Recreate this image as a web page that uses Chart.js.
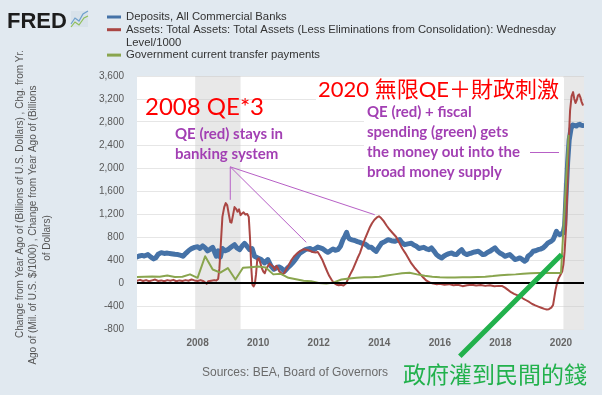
<!DOCTYPE html>
<html>
<head>
<meta charset="utf-8">
<script src="https://cdn.jsdelivr.net/npm/chart.js@4.4.1/dist/chart.umd.min.js"></script>
<style>
    html, body { margin: 0; padding: 0; background: #e1e9f0; }
    #wrap { position: relative; width: 602px; height: 395px; }
</style>
</head>
<body>
<div id="wrap"><canvas id="fredChart" width="602" height="395"></canvas></div>
<script>
// Deposits, All Commercial Banks (change from year ago, bn $) - weekly
const depYears = [2006.00, 2006.08, 2006.16, 2006.24, 2006.36, 2006.46, 2006.55, 2006.62, 2006.70, 2006.80, 2006.90,
    2007.00, 2007.13, 2007.25, 2007.35, 2007.45, 2007.52, 2007.62, 2007.72, 2007.80, 2007.90,
    2008.00, 2008.08, 2008.17, 2008.25, 2008.33, 2008.42, 2008.50, 2008.56, 2008.62, 2008.68, 2008.75, 2008.82, 2008.90,
    2009.00, 2009.10, 2009.22, 2009.30, 2009.39, 2009.48, 2009.55, 2009.63, 2009.72, 2009.80, 2009.88, 2009.99,
    2010.10, 2010.21, 2010.32, 2010.43, 2010.52, 2010.60, 2010.68, 2010.76, 2010.87, 2010.97,
    2011.05, 2011.14, 2011.22, 2011.30, 2011.38, 2011.47, 2011.56, 2011.64, 2011.72, 2011.80, 2011.90, 2011.97,
    2012.05, 2012.14, 2012.22, 2012.30, 2012.38, 2012.47, 2012.55, 2012.63, 2012.72, 2012.80, 2012.87, 2012.92, 2012.97,
    2013.02, 2013.10, 2013.19, 2013.28, 2013.36, 2013.44, 2013.52, 2013.60, 2013.66, 2013.74, 2013.82, 2013.90, 2013.98,
    2014.07, 2014.18, 2014.29, 2014.40, 2014.51, 2014.59, 2014.67, 2014.75, 2014.84, 2014.94,
    2015.06, 2015.14, 2015.23, 2015.31, 2015.39, 2015.47, 2015.56, 2015.64, 2015.72, 2015.80, 2015.89, 2015.97,
    2016.06, 2016.14, 2016.22, 2016.30, 2016.39, 2016.47, 2016.55, 2016.63, 2016.72, 2016.80, 2016.89, 2016.97,
    2017.05, 2017.15, 2017.27, 2017.35, 2017.42, 2017.49, 2017.57, 2017.65, 2017.73, 2017.82, 2017.90, 2017.98,
    2018.06, 2018.15, 2018.23, 2018.31, 2018.40, 2018.48, 2018.56, 2018.64, 2018.72, 2018.80, 2018.86, 2018.91,
    2019.00, 2019.08, 2019.16, 2019.24, 2019.32, 2019.41, 2019.49, 2019.57, 2019.66, 2019.74, 2019.80, 2019.85, 2019.90, 2019.96,
    2020.02, 2020.07, 2020.12, 2020.16, 2020.22, 2020.27, 2020.33, 2020.38, 2020.44, 2020.51, 2020.56, 2020.62, 2020.66, 2020.71];
const depValues = [455, 470, 480, 470, 494, 450, 420, 440, 500, 528, 515,
    520, 510, 500, 494, 480, 465, 520, 570, 598, 620,
    632, 600, 645, 610, 560, 590, 620, 540, 465, 560, 450, 600, 560,
    580, 620, 667, 610, 580, 650, 690, 640, 580, 600, 465, 436,
    407, 350, 407, 291, 240, 262, 280, 262, 205, 262,
    300, 350, 400, 464, 520, 551, 580, 592, 600, 568, 600, 626,
    610, 592, 560, 534, 560, 592, 570, 580, 640, 754, 820, 880, 800,
    765, 750, 740, 720, 707, 690, 680, 650, 620, 620, 580, 551, 620,
    690, 720, 754, 735, 725, 740, 754, 700, 667, 680,
    690, 660, 638, 600, 610, 620, 592, 580, 610, 560, 494, 460,
    436, 470, 494, 510, 522, 500, 494, 540, 580, 520, 494, 510,
    522, 540, 551, 520, 494, 500, 530, 551, 580, 610, 560, 522,
    500, 464, 480, 494, 450, 407, 420, 436, 410, 378, 400, 464,
    500, 551, 560, 580, 590, 610, 650, 697, 720, 754, 830, 898, 860, 840,
    860, 870, 1000, 1447, 2100, 2487, 2680, 2747, 2740, 2730, 2750, 2760, 2745, 2740];

// Total Assets (Less Eliminations from Consolidation) / 1000, change from year ago
const assetYears = [2006.00, 2006.10, 2006.20, 2006.30, 2006.40, 2006.50, 2006.60, 2006.70, 2006.80, 2006.90,
    2007.00, 2007.10, 2007.20, 2007.30, 2007.40, 2007.50, 2007.60, 2007.70, 2007.80, 2007.90,
    2008.00, 2008.10, 2008.20, 2008.30, 2008.35, 2008.45, 2008.55, 2008.62, 2008.68, 2008.72, 2008.77, 2008.82, 2008.88, 2008.93, 2008.98,
    2009.03, 2009.08, 2009.12, 2009.17, 2009.22, 2009.27, 2009.32, 2009.37, 2009.42, 2009.47, 2009.52, 2009.58, 2009.64, 2009.69,
    2009.73, 2009.77, 2009.81, 2009.85, 2009.89, 2009.93, 2009.97,
    2010.02, 2010.07, 2010.12, 2010.17, 2010.22, 2010.27, 2010.33, 2010.38, 2010.44, 2010.50, 2010.55, 2010.60, 2010.65,
    2010.70, 2010.75, 2010.80, 2010.86, 2010.92,
    2011.00, 2011.10, 2011.20, 2011.30, 2011.40, 2011.50, 2011.60, 2011.70, 2011.80, 2011.90, 2011.97,
    2012.05, 2012.13, 2012.20, 2012.28, 2012.35, 2012.42, 2012.50, 2012.58, 2012.66, 2012.74, 2012.82, 2012.90, 2012.96,
    2013.04, 2013.12, 2013.20, 2013.28, 2013.36, 2013.44, 2013.52, 2013.60, 2013.68, 2013.76, 2013.84, 2013.92, 2013.99,
    2014.06, 2014.14, 2014.24, 2014.34, 2014.44, 2014.56, 2014.66, 2014.76, 2014.86, 2014.96,
    2015.06, 2015.16, 2015.26, 2015.36, 2015.46, 2015.56, 2015.66, 2015.78, 2015.90,
    2016.00, 2016.15, 2016.30, 2016.45, 2016.60, 2016.75, 2016.90,
    2017.05, 2017.20, 2017.35, 2017.50, 2017.65, 2017.80, 2017.95,
    2018.05, 2018.15, 2018.25, 2018.35, 2018.45, 2018.55, 2018.65, 2018.75, 2018.85, 2018.95,
    2019.05, 2019.15, 2019.25, 2019.35, 2019.45, 2019.53, 2019.60, 2019.68, 2019.74, 2019.78, 2019.82, 2019.87, 2019.92, 2019.98,
    2020.04, 2020.08, 2020.12, 2020.17, 2020.21, 2020.25, 2020.30, 2020.35, 2020.40, 2020.44, 2020.48, 2020.52, 2020.56,
    2020.60, 2020.64, 2020.68, 2020.72];
const assetValues = [40, 55, 35, 50, 30, 45, 60, 35, 45, 30,
    50, 40, 55, 30, 45, 35, 50, 40, 60, 45,
    35, 50, 30, -15, 30, 40, 50, 45, 70, 250, 700, 1150, 1320, 1390, 1350,
    1200, 1060, 1050, 1180, 1320, 1290, 1240, 1280, 1180, 1210, 1230, 1190, 1200, 1150,
    800, 300, -30, -60, -20, 150, 400,
    430, 350, 260, 200, 170, 250, 300, 340, 310, 280, 230, 300, 260,
    200, 180, 150, 170, 230,
    300, 400, 470, 520, 560, 585, 580, 560, 540, 530, 540,
    470, 390, 300, 200, 120, 60, 0, -25, -40, -30, -45, -10, 60,
    150, 230, 330, 430, 520, 640, 760, 860, 960, 1040, 1100, 1140, 1160,
    1130, 1080, 1000, 930, 870, 800, 700, 600, 520, 430,
    340, 270, 210, 150, 90, 40, 10, -10, -20,
    -15, -30, -20, -40, -30, -55, -40,
    -30, -45, -35, -50, -40, -55, -50,
    -50, -80, -120, -160, -190, -210, -235, -270, -300, -330,
    -365, -390, -410, -430, -450, -460, -455, -430, -380, -250, -120, 0, 80, 140,
    200, 320, 550, 985, 1700, 2400, 3000, 3250, 3320, 3200, 3130, 3180, 3260,
    3280, 3230, 3150, 3100];

// Government current transfer payments, change from year ago (quarterly)
const transferYears = [2006.00, 2006.25, 2006.50, 2006.75, 2007.00, 2007.25, 2007.50, 2007.75,
    2008.00, 2008.25, 2008.50, 2008.75, 2009.00, 2009.25, 2009.50, 2009.75,
    2010.00, 2010.25, 2010.50, 2010.75, 2011.00, 2011.25, 2011.50, 2011.75,
    2012.00, 2012.25, 2012.50, 2012.75, 2013.00, 2013.25, 2013.50, 2013.75,
    2014.00, 2014.25, 2014.50, 2014.75, 2015.00, 2015.25, 2015.50, 2015.75,
    2016.00, 2016.25, 2016.50, 2016.75, 2017.00, 2017.25, 2017.50, 2017.75,
    2018.00, 2018.25, 2018.50, 2018.75, 2019.00, 2019.25, 2019.50, 2019.75,
    2020.00, 2020.25];
const transferValues = [105, 110, 115, 110, 130, 105, 110, 150,
    90, 465, 235, 180, 260, 60, 265, 275,
    285, 270, 150, 160, 90, 65, 40, 30,
    0, -10, 10, 60, 80, 90, 100, 100,
    110, 130, 150, 170, 180, 150, 125, 110,
    100, 95, 95, 100, 100, 105, 110, 120,
    135, 145, 150, 160, 170, 175, 175, 175,
    175, 2560];

const xTickYears = [2008, 2010, 2012, 2014, 2016, 2018, 2020];
const recessions = [[2007.92, 2009.42], [2020.08, 2020.76]];

const legendItems = [
    { color: '#4572a7', lines: ['Deposits, All Commercial Banks'] },
    { color: '#aa4643', lines: ['Assets: Total Assets: Total Assets (Less Eliminations from Consolidation): Wednesday', 'Level/1000'] },
    { color: '#89a54e', lines: ['Government current transfer payments'] }
];
const yTitleLines = [
    'Change from Year Ago of (Billions of U.S. Dollars) , Chg. from Yr.',
    'Ago of (Mil. of U.S. $/1000) , Change from Year Ago of (Billions',
    'of Dollars)'
];

const LATIN_CJK = "Lato, 'Noto Sans CJK TC', sans-serif";
const PURPLE = '#a23fb3';

function toPoints(xs, ys) {
    return xs.map((x, i) => ({ x: x, y: ys[i] }));
}

// all the extra drawing FRED + the pasted annotations
const fredDecor = {
    id: 'fredDecor',
    beforeDraw(chart) {
        const { ctx, chartArea: a } = chart;
        ctx.save();
        ctx.fillStyle = '#e1e9f0';
        ctx.fillRect(0, 0, chart.width, chart.height);
        ctx.fillStyle = '#ffffff';
        ctx.fillRect(a.left, a.top, a.right - a.left, a.bottom - a.top);
        ctx.restore();
    },
    beforeDatasetsDraw(chart) {
        const { ctx, chartArea: a, scales: { x } } = chart;
        ctx.save();
        ctx.fillStyle = 'rgba(200,200,200,0.42)';
        recessions.forEach(([s, e]) => {
            const x0 = Math.max(a.left, x.getPixelForValue(s));
            const x1 = Math.min(a.right, x.getPixelForValue(e));
            ctx.fillRect(x0, a.top, x1 - x0, a.bottom - a.top);
        });
        // white boxes under pasted text
        ctx.fillStyle = '#ffffff';
        ctx.fillRect(316, 78, 248, 24);
        ctx.fillRect(364, 101, 200, 82);
        ctx.restore();
    },
    afterDatasetsDraw(chart) {
        const { ctx, chartArea: a, scales: { x, y } } = chart;
        ctx.save();
        // zero line
        ctx.strokeStyle = '#000000';
        ctx.lineWidth = 2;
        ctx.beginPath();
        ctx.moveTo(a.left, y.getPixelForValue(0));
        ctx.lineTo(a.right, y.getPixelForValue(0));
        ctx.stroke();

        // pointer lines to the red humps
        const apex = [2009.08, 2020];
        const targets = [[2009.08, 1447], [2011.59, 707], [2013.85, 1187]];
        ctx.strokeStyle = '#b760c6';
        ctx.lineWidth = 1;
        targets.forEach(t => {
            ctx.beginPath();
            ctx.moveTo(x.getPixelForValue(apex[0]), y.getPixelForValue(apex[1]));
            ctx.lineTo(x.getPixelForValue(t[0]), y.getPixelForValue(t[1]));
            ctx.stroke();
        });
        ctx.beginPath();
        ctx.moveTo(530, 152.5);
        ctx.lineTo(559, 152.5);
        ctx.stroke();

        // green arrow line
        ctx.strokeStyle = '#22b14c';
        ctx.lineWidth = 5;
        ctx.beginPath();
        ctx.moveTo(x.getPixelForValue(2020.02), y.getPixelForValue(494));
        ctx.lineTo(x.getPixelForValue(2016.66), y.getPixelForValue(-1274));
        ctx.stroke();

        // red titles
        ctx.fillStyle = '#ff0000';
        ctx.textBaseline = 'alphabetic';
        ctx.textAlign = 'left';
        ctx.font = `24px ${LATIN_CJK}`;
        ctx.fillText('2008 QE*3', 145, 115);
        ctx.font = `22px ${LATIN_CJK}`;
        ctx.fillText('2020 無限QE＋財政刺激', 318, 97);

        // purple notes
        ctx.fillStyle = PURPLE;
        ctx.textBaseline = 'middle';
        ctx.font = `bold 15px ${LATIN_CJK}`;
        ['QE (red) stays in', 'banking system'].forEach((t, i) => ctx.fillText(t, 175, 134 + i * 20));
        ['QE (red) + fiscal', 'spending (green) gets', 'the money out into the', 'broad money supply']
            .forEach((t, i) => ctx.fillText(t, 367, 112 + i * 20));
        ctx.restore();
    },
    afterDraw(chart) {
        const { ctx } = chart;
        ctx.save();
        // FRED logo
        ctx.fillStyle = '#1d1d1d';
        ctx.font = "bold 22px 'Liberation Sans', Arial, sans-serif";
        ctx.textBaseline = 'alphabetic';
        ctx.fillText('FRED', 7, 28);
        ctx.fillStyle = '#d8e2ea';
        ctx.fillRect(71, 11, 17, 16);
        ctx.lineWidth = 1.2;
        ctx.strokeStyle = '#6ea0cc';
        ctx.beginPath();
        ctx.moveTo(71, 24); ctx.lineTo(75, 18); ctx.lineTo(79, 21); ctx.lineTo(83, 14); ctx.lineTo(88, 11);
        ctx.stroke();
        ctx.strokeStyle = '#8fbf5a';
        ctx.beginPath();
        ctx.moveTo(71, 27); ctx.lineTo(75, 22); ctx.lineTo(79, 25); ctx.lineTo(84, 18); ctx.lineTo(88, 16);
        ctx.stroke();

        // legend
        ctx.font = "11.3px 'Liberation Sans', Arial, sans-serif";
        ctx.textBaseline = 'middle';
        let ly = 17;
        legendItems.forEach(item => {
            ctx.strokeStyle = item.color;
            ctx.lineWidth = 3;
            ctx.beginPath();
            ctx.moveTo(107, ly);
            ctx.lineTo(121, ly);
            ctx.stroke();
            ctx.fillStyle = '#333333';
            item.lines.forEach(line => {
                ctx.fillText(line, 126, ly);
                ly += 12.7;
            });
        });

        // y axis title
        ctx.fillStyle = '#555555';
        ctx.font = "10px 'Liberation Sans', Arial, sans-serif";
        ctx.textAlign = 'center';
        const titlePos = [[20, 194], [33, 225], [47, 238]];
        yTitleLines.forEach((t, i) => {
            ctx.save();
            ctx.translate(titlePos[i][0], titlePos[i][1]);
            ctx.rotate(-Math.PI / 2);
            ctx.fillText(t, 0, 0);
            ctx.restore();
        });

        // sources
        ctx.textAlign = 'left';
        ctx.fillStyle = '#6b6b6b';
        ctx.font = "12px 'Liberation Sans', Arial, sans-serif";
        ctx.fillText('Sources: BEA, Board of Governors', 202, 373);

        // green caption
        ctx.fillStyle = '#22b14c';
        ctx.textBaseline = 'alphabetic';
        ctx.font = "23px 'Noto Sans CJK TC', sans-serif";
        ctx.fillText('政府灌到民間的錢', 403, 383);
        ctx.restore();
    }
};

const chart = new Chart(document.getElementById('fredChart'), {
    type: 'line',
    data: {
        datasets: [
            {
                label: 'Government current transfer payments',
                data: toPoints(transferYears, transferValues),
                borderColor: '#89a54e',
                borderWidth: 2,
                order: 0
            },
            {
                label: 'Assets: Total Assets/1000',
                data: toPoints(assetYears, assetValues),
                borderColor: '#aa4643',
                borderWidth: 2,
                order: 1
            },
            {
                label: 'Deposits, All Commercial Banks',
                data: toPoints(depYears, depValues),
                borderColor: '#4572a7',
                borderWidth: 5,
                order: 2
            }
        ]
    },
    options: {
        responsive: false,
        animation: false,
        devicePixelRatio: 1,
        elements: {
            point: { radius: 0 },
            line: { tension: 0, borderJoinStyle: 'round', borderCapStyle: 'round', fill: false }
        },
        layout: { padding: { left: 0, top: 76, right: 18, bottom: 0 } },
        plugins: { legend: { display: false }, tooltip: { enabled: false } },
        scales: {
            x: {
                type: 'linear',
                min: 2006.0,
                max: 2020.76,
                afterFit: s => { s.height = 66; },
                afterBuildTicks: s => { s.ticks = xTickYears.map(v => ({ value: v })); },
                grid: { display: false, drawTicks: false },
                border: { display: false },
                ticks: {
                    padding: 8,
                    maxRotation: 0,
                    color: '#666666',
                    font: { family: "'Liberation Sans', Arial, sans-serif", size: 10, weight: 'bold' },
                    callback: v => String(v)
                }
            },
            y: {
                min: -800,
                max: 3600,
                afterFit: s => { s.width = 137; },
                grid: { color: '#e6e6e6', drawTicks: false },
                border: { display: false },
                ticks: {
                    stepSize: 400,
                    padding: 13,
                    color: '#595959',
                    font: { family: "'Liberation Sans', Arial, sans-serif", size: 10 }
                }
            }
        }
    },
    plugins: [fredDecor]
});
</script>
</body>
</html>
